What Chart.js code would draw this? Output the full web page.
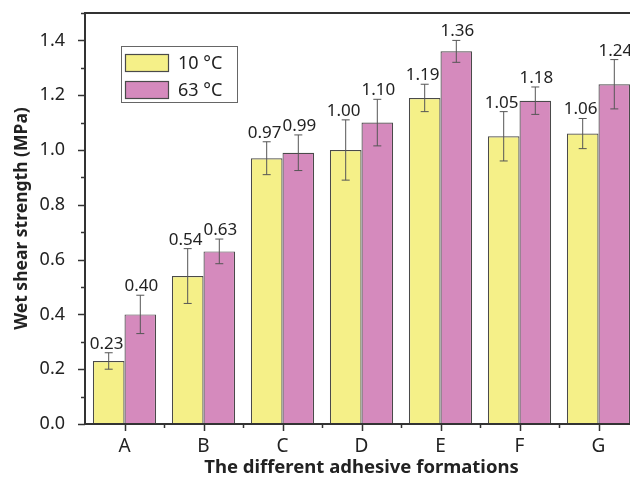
<!DOCTYPE html>
<html>
<head>
<meta charset="utf-8">
<script src="https://cdn.jsdelivr.net/npm/chart.js@4.4.1/dist/chart.umd.min.js"></script>
<style>
  html, body { margin: 0; padding: 0; background: #fff; overflow: hidden; }
  #wrap { width: 645px; height: 479px; }
</style>
</head>
<body>
<div id="wrap"><canvas id="shearChart" width="645" height="479"></canvas></div>
<script>
// data
const categories = ["A", "B", "C", "D", "E", "F", "G"];
const seriesNames = ["10 \u00B0C", "63 \u00B0C"];
const low = [0.23, 0.54, 0.97, 1.00, 1.19, 1.05, 1.06];
const high = [0.40, 0.63, 0.99, 1.10, 1.36, 1.18, 1.24];
const lowErr = [0.03, 0.10, 0.06, 0.11, 0.05, 0.09, 0.055];
const highErr = [0.07, 0.045, 0.065, 0.085, 0.04, 0.05, 0.09];
const yTicks = [0, 0.2, 0.4, 0.6, 0.8, 1.0, 1.2, 1.4];

const YELLOW = "#f5f088";
const PINK = "#d58abd";
const EDGE = "#4a4a4a";
const FONT = "'Noto Sans', 'DejaVu Sans', sans-serif";

const errors = [lowErr, highErr];

// error bars + value labels
const errorBars = {
  id: "errorBars",
  afterDatasetsDraw(chart) {
    const ctx = chart.ctx;
    const y = chart.scales.y;
    ctx.save();
    chart.data.datasets.forEach((ds, di) => {
      const meta = chart.getDatasetMeta(di);
      const nudge = di === 0 ? -2 : 1; // labels lean apart a little, like the original
      meta.data.forEach((bar, i) => {
        const v = ds.data[i];
        const e = errors[di][i];
        const top = y.getPixelForValue(v + e);
        const bot = y.getPixelForValue(v - e);
        ctx.strokeStyle = "#555";
        ctx.lineWidth = 1;
        ctx.beginPath();
        ctx.moveTo(bar.x, top); ctx.lineTo(bar.x, bot);
        ctx.moveTo(bar.x - 4, top); ctx.lineTo(bar.x + 4, top);
        ctx.moveTo(bar.x - 4, bot); ctx.lineTo(bar.x + 4, bot);
        ctx.stroke();
        ctx.fillStyle = "#222";
        ctx.font = "17px " + FONT;
        ctx.textAlign = "center";
        ctx.textBaseline = "alphabetic";
        ctx.fillText(v.toFixed(2), bar.x + nudge, top - 4);
      });
    });
    ctx.restore();
  }
};

// frame, tick marks and legend box
const frameAndTicks = {
  id: "frameAndTicks",
  afterDraw(chart) {
    const ctx = chart.ctx;
    const a = chart.chartArea;
    const y = chart.scales.y;
    const x = chart.scales.x;
    ctx.save();
    ctx.strokeStyle = "#333";
    ctx.lineWidth = 1.5;
    // y ticks, minor every 0.1
    for (let k = 0; k <= 15; k++) {
      const py = Math.round(y.getPixelForValue(k / 10)) + 0.5;
      const len = k % 2 === 0 ? 7 : 4;
      ctx.beginPath();
      ctx.moveTo(a.left - len, py); ctx.lineTo(a.left, py);
      ctx.stroke();
    }
    // x ticks: major at categories, minor between
    const w = (a.right - a.left) / categories.length;
    categories.forEach((c, i) => {
      const px = Math.round(x.getPixelForValue(i)) + 0.5;
      ctx.beginPath();
      ctx.moveTo(px, a.bottom); ctx.lineTo(px, a.bottom + 7);
      ctx.stroke();
      const bx = Math.round(a.left + w * (i + 1)) + 0.5;
      ctx.beginPath();
      ctx.moveTo(bx, a.bottom); ctx.lineTo(bx, a.bottom + 4);
      ctx.stroke();
    });
    ctx.lineWidth = 2;
    ctx.strokeRect(a.left, a.top, a.right - a.left, a.bottom - a.top);

    // legend
    ctx.lineWidth = 1;
    ctx.strokeStyle = "#666";
    ctx.strokeRect(121.5, 46.5, 116, 56);
    const fills = [YELLOW, PINK];
    ctx.font = "18px " + FONT;
    ctx.textAlign = "left";
    ctx.textBaseline = "middle";
    seriesNames.forEach((name, i) => {
      const ty = 54 + i * 27;
      ctx.fillStyle = fills[i];
      ctx.fillRect(125.5, ty + 0.5, 43, 17);
      ctx.strokeStyle = EDGE;
      ctx.lineWidth = 1.2;
      ctx.strokeRect(125.5, ty + 0.5, 43, 17);
      ctx.fillStyle = "#222";
      ctx.fillText(name, 178, ty + 9.5);
    });
    ctx.restore();
  }
};

new Chart(document.getElementById("shearChart"), {
  type: "bar",
  data: {
    labels: categories,
    datasets: [
      {
        label: seriesNames[0],
        data: low,
        backgroundColor: YELLOW,
        borderColor: EDGE,
        borderWidth: 1.2,
        barPercentage: 1.0,
        categoryPercentage: 0.8,
      },
      {
        label: seriesNames[1],
        data: high,
        backgroundColor: PINK,
        borderColor: EDGE,
        borderWidth: 1.2,
        barPercentage: 1.0,
        categoryPercentage: 0.8,
      },
    ],
  },
  options: {
    responsive: false,
    animation: false,
    devicePixelRatio: 1,
    layout: { padding: { top: 13, right: 7, left: 0, bottom: 0 } },
    plugins: { legend: { display: false }, tooltip: { enabled: false } },
    scales: {
      x: {
        grid: { display: false },
        border: { display: false },
        ticks: { color: "#222", font: { family: FONT, size: 19 }, padding: 3 },
        title: {
          display: true,
          text: "The different adhesive formations",
          color: "#222",
          font: { family: FONT, size: 18.5, weight: "bold" },
          padding: 0,
        },
        afterFit(scale) { scale.height = 55; },
      },
      y: {
        min: 0,
        max: 1.5,
        grid: { display: false },
        border: { display: false },
        afterBuildTicks(scale) { scale.ticks = yTicks.map(v => ({ value: v })); },
        ticks: {
          color: "#222",
          font: { family: FONT, size: 18 },
          padding: 12,
          callback: v => v.toFixed(1),
        },
        title: {
          display: true,
          text: "Wet shear strength (MPa)",
          color: "#222",
          font: { family: FONT, size: 17.5, weight: "bold" },
          padding: { top: 12, bottom: 0 },
        },
        afterFit(scale) {
          scale.width = 85;
          scale.paddingTop = 0;
          scale.paddingBottom = 0;
        },
      },
    },
  },
  plugins: [errorBars, frameAndTicks],
});
</script>
</body>
</html>
